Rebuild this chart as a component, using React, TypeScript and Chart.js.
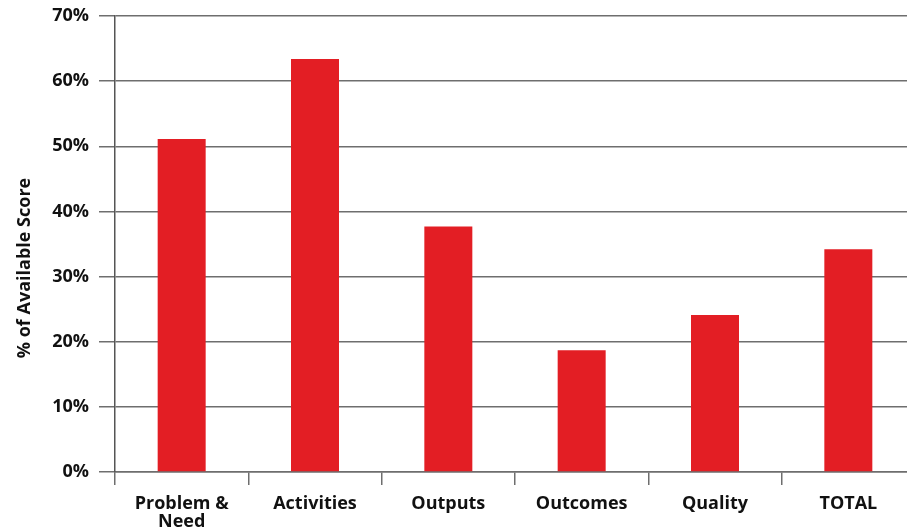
import React, { useEffect, useRef } from "react";
import { Chart, registerables } from "chart.js";

Chart.register(...registerables);

const categories: (string | string[])[] = [["Problem &", "Need"], "Activities", "Outputs", "Outcomes", "Quality", "TOTAL"];
const scores: number[] = [51.1, 63.4, 37.7, 18.7, 24.1, 34.2];
const yTicks: number[] = [0, 10, 20, 30, 40, 50, 60, 70];
const yTitle = "% of Available Score";

const FONT = "'Open Sans', 'DejaVu Sans', sans-serif";

const yTitlePlugin = {
  id: "yTitlePlugin",
  afterDraw(chart: any) {
    const ctx = chart.ctx;
    ctx.save();
    ctx.translate(25, 268);
    ctx.rotate(-Math.PI / 2);
    ctx.font = `bold 18px ${FONT}`;
    ctx.fillStyle = "#111";
    ctx.textAlign = "center";
    ctx.textBaseline = "middle";
    ctx.fillText(yTitle, 0, 0);
    ctx.restore();
  },
};

export default function App() {
  const ref = useRef<HTMLCanvasElement | null>(null);
  useEffect(() => {
    document.body.style.margin = "0";
    document.body.style.overflow = "hidden";
    const chart = new Chart(ref.current!, {
      type: "bar",
      data: {
        labels: categories,
        datasets: [
          {
            data: scores,
            backgroundColor: "#E31E24",
            borderWidth: 0,
            barPercentage: 0.36,
            categoryPercentage: 1,
          },
        ],
      },
      plugins: [yTitlePlugin],
      options: {
        animation: false,
        responsive: true,
        maintainAspectRatio: false,
        layout: { padding: { top: 16, right: 1, left: 0, bottom: 0 } },
        plugins: { legend: { display: false }, tooltip: { enabled: false } },
        scales: {
          x: {
            offset: true,
            afterFit: (s: any) => {
              s.height = 57;
              s.paddingLeft = 0;
              s.paddingRight = 0;
            },
            grid: {
              offset: true,
              drawOnChartArea: false,
              drawTicks: true,
              tickLength: 13,
              color: "#6e6e6e",
              lineWidth: 1.5,
            },
            border: { color: "#6e6e6e", width: 1.5 },
            ticks: {
              color: "#111",
              font: { family: FONT, size: 18, weight: "bold", lineHeight: 1.0 },
              padding: 10,
              maxRotation: 0,
              autoSkip: false,
            },
          },
          y: {
            min: 0,
            max: 70,
            afterFit: (s: any) => {
              s.width = 115;
              s.paddingTop = 0;
              s.paddingBottom = 0;
            },
            afterBuildTicks: (s: any) => {
              s.ticks = yTicks.map((v) => ({ value: v }));
            },
            grid: {
              color: "#6e6e6e",
              lineWidth: 1.5,
              drawTicks: true,
              tickLength: 16,
            },
            border: { color: "#555", width: 1.5 },
            ticks: {
              color: "#111",
              font: { family: FONT, size: 18, weight: "bold" },
              padding: 10,
              callback: (v: any) => `${v}%`,
            },
          },
        },
      },
    });
    return () => chart.destroy();
  }, []);
  return (
    <div style={{ position: "absolute", left: 0, top: 0, width: 916, height: 529 }}>
      <canvas ref={ref} />
    </div>
  );
}
